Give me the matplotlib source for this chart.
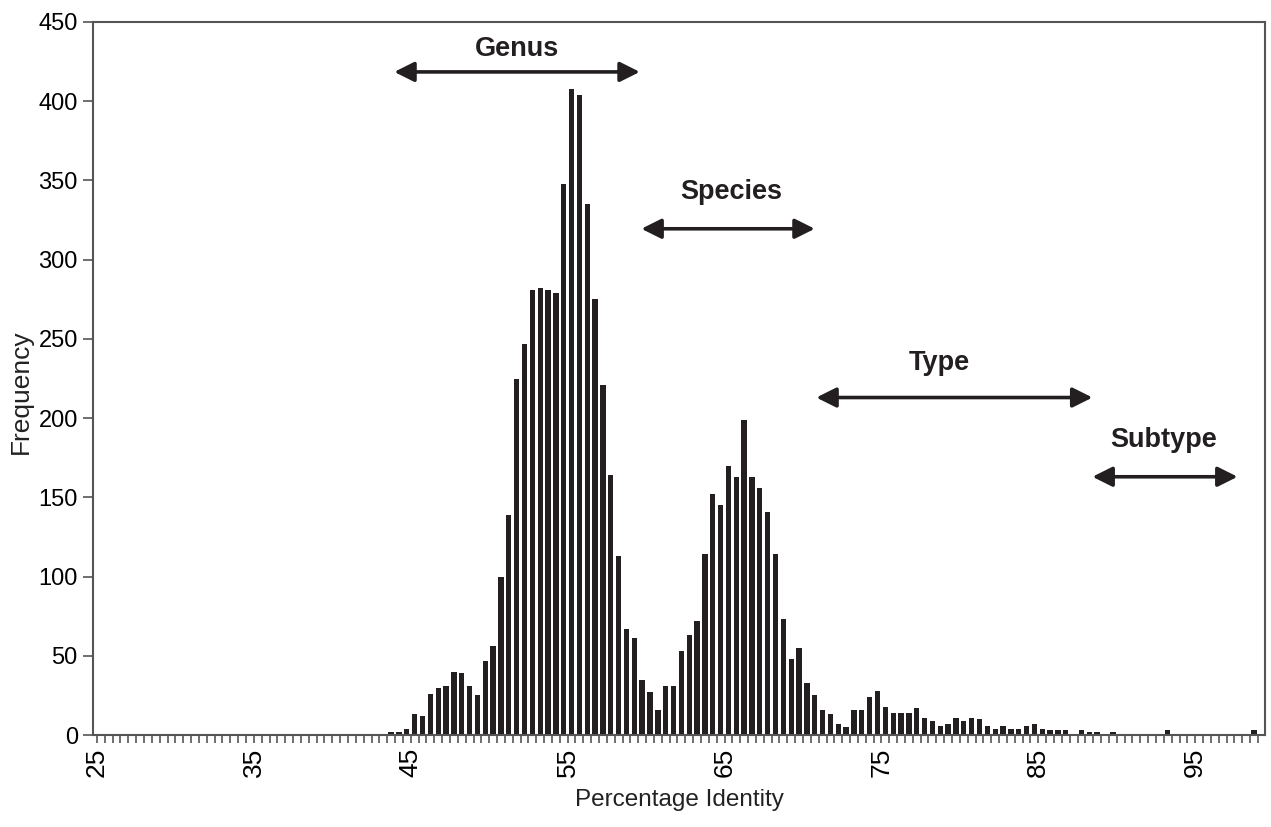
import matplotlib
matplotlib.use("Agg")
import matplotlib.pyplot as plt
from matplotlib.ticker import MultipleLocator, FixedLocator
import numpy as np

# frequency per 0.5% identity bin, first bin starts at 43.5
bin_start = 43.5
bin_width = 0.5
freq = [2, 2, 4, 13, 12, 26, 30, 31, 40, 39,
        31, 25, 47, 56, 100, 139, 225, 247, 281, 282,
        281, 279, 348, 408, 404, 335, 275, 221, 164, 113,
        67, 61, 35, 27, 16, 31, 31, 53, 63, 72,
        114, 152, 145, 170, 163, 199, 163, 156, 141, 114,
        73, 48, 55, 33, 25, 16, 13, 7, 5, 16,
        16, 24, 28, 18, 14, 14, 14, 17, 11, 9,
        6, 7, 11, 9, 11, 10, 6, 4, 6, 4,
        4, 6, 7, 4, 3, 3, 3, 0, 3, 2,
        2, 0, 2, 0, 0, 0, 0, 0, 0, 3,
        0, 0, 0, 0, 0, 0, 0, 0, 0, 0,
        3]

x_labels = [25, 35, 45, 55, 65, 75, 85, 95]
y_ticks = [0, 50, 100, 150, 200, 250, 300, 350, 400, 450]

# (label, left end, right end, arrow y, text x, text y)
ranges = [
    ("Genus", 43.95, 59.6, 418.5, 51.75, 433),
    ("Species", 59.7, 70.75, 319.5, 65.4, 343),
    ("Type", 70.85, 88.45, 213, 78.7, 235),
    ("Subtype", 88.45, 97.7, 163, 93.0, 186),
]

INK = "#231f20"
SPINE = "#555555"

plt.rcParams['font.family'] = ['Liberation Sans', 'DejaVu Sans']

fig = plt.figure(figsize=(12.71, 8.27), dpi=100)
ax = fig.add_axes([0.0732, 0.1112, 0.9221, 0.8622])

centers = bin_start + bin_width / 2 + bin_width * np.arange(len(freq))
ax.bar(centers, freq, width=0.34, color=INK, linewidth=0)

ax.set_xlim(24.75, 99.45)
ax.set_ylim(0, 450)

ax.xaxis.set_major_locator(FixedLocator(x_labels))
ax.xaxis.set_minor_locator(MultipleLocator(0.5))
ax.set_xticklabels([str(v) for v in x_labels], rotation=90)
ax.set_yticks(y_ticks)

ax.tick_params(axis='x', which='both', direction='out', length=6, width=1.2,
               color=SPINE, labelsize=19, pad=3)
ax.tick_params(axis='y', which='major', direction='out', length=7, width=1.2,
               color=SPINE, labelsize=17, pad=4)

for s in ax.spines.values():
    s.set_color(SPINE)
    s.set_linewidth(1.5)

ax.set_xlabel("Percentage Identity", fontsize=17.5, color="#222222", labelpad=9)
ax.set_ylabel("Frequency", fontsize=19, color="#222222")
ax.yaxis.set_label_coords(-0.051, 0.481)

for name, x0, x1, ya, tx, ty in ranges:
    ax.annotate("", xy=(x0, ya), xytext=(x1, ya),
                arrowprops=dict(arrowstyle='<|-|>', color=INK, lw=2.6,
                                mutation_scale=30, shrinkA=0, shrinkB=0))
    ax.text(tx, ty, name, ha='center', va='center', fontsize=19.5,
            fontweight='bold', color=INK)

fig.savefig("out.png", dpi=100)
